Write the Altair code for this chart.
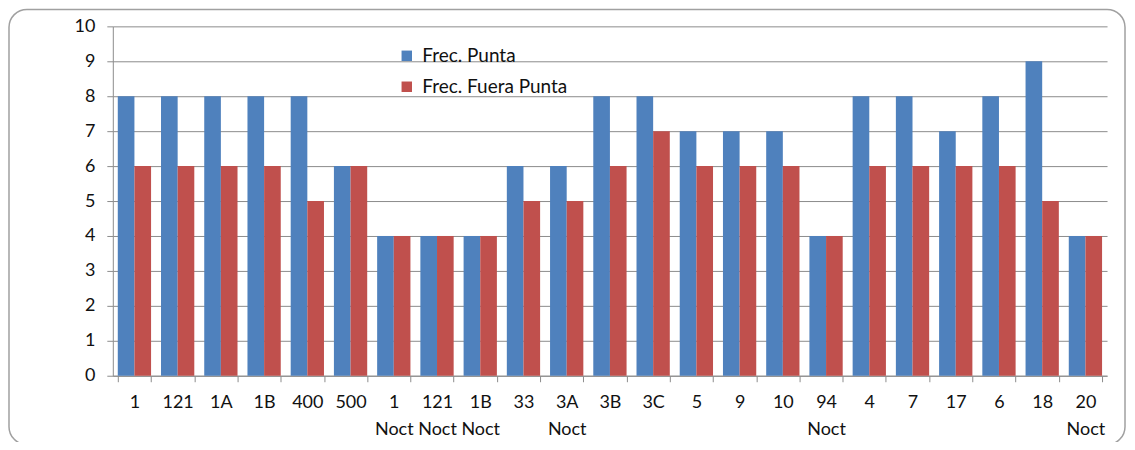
import altair as alt
import pandas as pd

categories = ["1", "121", "1A", "1B", "400", "500", "1 Noct", "121 Noct", "1B Noct",
              "33", "3A Noct", "3B", "3C", "5", "9", "10", "94 Noct", "4", "7", "17",
              "6", "18", "20 Noct"]
punta = [8, 8, 8, 8, 8, 6, 4, 4, 4, 6, 6, 8, 8, 7, 7, 7, 4, 8, 8, 7, 8, 9, 4]
fuera = [6, 6, 6, 6, 5, 6, 4, 4, 4, 5, 5, 6, 7, 6, 6, 6, 4, 6, 6, 6, 6, 5, 4]
series = ["Frec. Punta", "Frec. Fuera Punta"]
colors = ["#4F81BD", "#C0504D"]

rows = []
for c, p, f in zip(categories, punta, fuera):
    rows.append({"cat": c, "serie": series[0], "val": p})
    rows.append({"cat": c, "serie": series[1], "val": f})
df = pd.DataFrame(rows)

FONT = "Lato"
GRAY = "#8c8c8c"

frame = alt.Chart(alt.Data(values=[{"a": 1}])).mark_rect(
    fillOpacity=0, stroke="#a0a0a0", strokeWidth=1.5, cornerRadius=18
).encode(
    x=alt.value(-104), x2=alt.value(1014), y=alt.value(-17), y2=alt.value(419)
)

bars = alt.Chart(df).mark_bar().encode(
    x=alt.X("cat:N", sort=categories, title=None,
            scale=alt.Scale(paddingInner=0.23, paddingOuter=0.115),
            axis=alt.Axis(labelAngle=0,
                          labelExpr="isValid(datum.value) ? split(datum.value, ' ') : ''",
                          tickBand="extent", tickSize=6, tickColor=GRAY, tickWidth=1,
                          domainColor=GRAY, labelPadding=21, labelLineHeight=27,
                          labelFontSize=18, labelFont=FONT, labelColor="#111",
                          labelBaseline="middle")),
    xOffset=alt.XOffset("serie:N", sort=series, scale=alt.Scale(paddingInner=0, paddingOuter=0)),
    y=alt.Y("val:Q", title=None,
            scale=alt.Scale(domain=[0, 10], nice=False),
            axis=alt.Axis(values=list(range(0, 11)), tickSize=6, tickColor=GRAY,
                          domainColor=GRAY, gridColor=GRAY, labelPadding=12,
                          labelFontSize=18, labelFont=FONT, labelColor="#111")),
    color=alt.Color("serie:N", sort=series,
                    scale=alt.Scale(domain=series, range=colors),
                    legend=alt.Legend(title=None, orient="none", legendX=285, legendY=20,
                                      symbolType="square", symbolSize=110,
                                      symbolStrokeWidth=0, labelFontSize=19,
                                      labelFont=FONT, labelColor="#111",
                                      rowPadding=11, labelOffset=6, padding=0)),
)

chart = alt.layer(frame, bars).properties(
    width=996, height=350,
    autosize=alt.AutoSizeParams(type="none"),
    padding={"left": 105, "top": 18, "right": 20, "bottom": 66},
    background="white",
).configure_view(stroke=None)

chart.save("out.html", embed_options={"renderer": "svg", "actions": False})
